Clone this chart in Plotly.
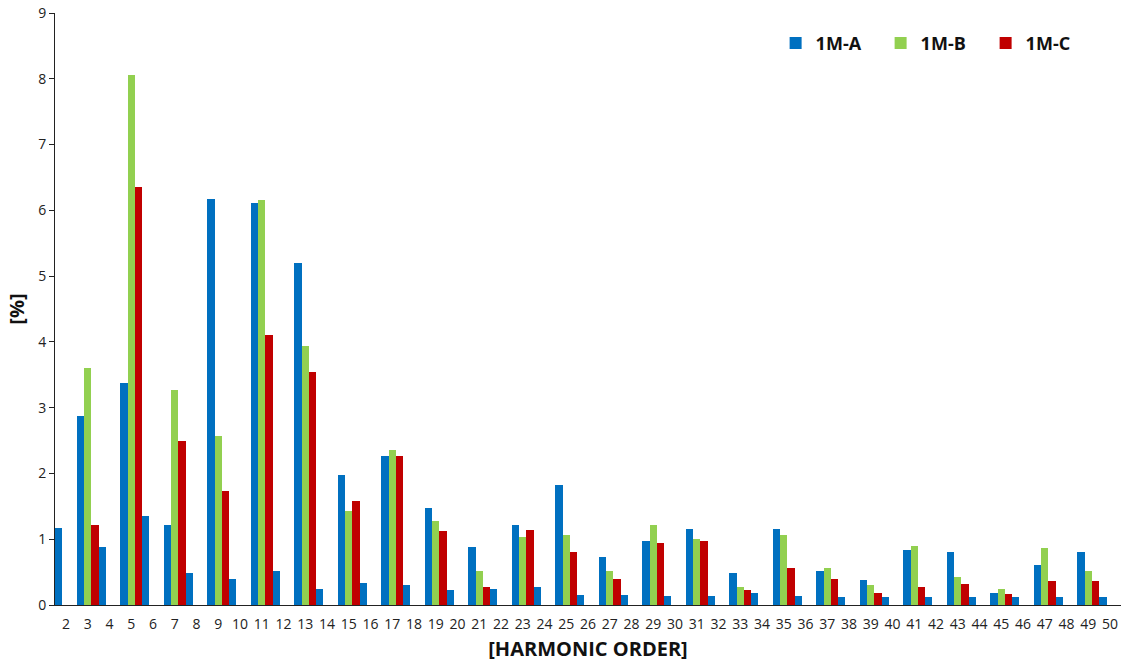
import plotly.graph_objects as go

# Harmonic orders 2..50
orders = [str(n) for n in range(2, 51)]

# Harmonic distortion per order [%] (odd orders for all phases, even orders only 1M-A)
m_a = [1.17, 2.88, 0.885, 3.38, 1.35, 1.21, 0.49, 6.17, 0.40, 6.11,
       0.51, 5.20, 0.25, 1.97, 0.33, 2.26, 0.31, 1.48, 0.23, 0.885,
       0.25, 1.21, 0.27, 1.83, 0.145, 0.73, 0.145, 0.97, 0.13, 1.15,
       0.13, 0.49, 0.185, 1.15, 0.13, 0.51, 0.115, 0.38, 0.115, 0.84,
       0.115, 0.81, 0.115, 0.185, 0.115, 0.61, 0.115, 0.80, 0.115]
m_b = [None, 3.60, None, 8.05, None, 3.27, None, 2.57, None, 6.15,
       None, 3.93, None, 1.43, None, 2.35, None, 1.27, None, 0.52,
       None, 1.04, None, 1.07, None, 0.52, None, 1.22, None, 1.00,
       None, 0.27, None, 1.07, None, 0.555, None, 0.30, None, 0.90,
       None, 0.42, None, 0.25, None, 0.87, None, 0.52, None]
m_c = [None, 1.22, None, 6.36, None, 2.50, None, 1.74, None, 4.10,
       None, 3.54, None, 1.58, None, 2.26, None, 1.12, None, 0.28,
       None, 1.14, None, 0.80, None, 0.40, None, 0.94, None, 0.98,
       None, 0.235, None, 0.555, None, 0.40, None, 0.175, None, 0.28,
       None, 0.32, None, 0.16, None, 0.36, None, 0.36, None]

series = [("1M-A", m_a, "#0070C0"), ("1M-B", m_b, "#92D050"), ("1M-C", m_c, "#C00000")]

fig = go.Figure()
for name, vals, color in series:
    fig.add_trace(go.Bar(x=orders, y=vals, name=name,
                         marker=dict(color=color, line=dict(width=0))))

font_family = "Open Sans, Noto Sans, sans-serif"

fig.update_layout(
    width=1121, height=667,
    margin=dict(l=55, r=0, t=13, b=62, autoexpand=False),
    paper_bgcolor="white", plot_bgcolor="white",
    barmode="group", bargap=0, bargroupgap=0,
    font=dict(family=font_family, size=14, color="#222"),
    showlegend=True,
    legend=dict(orientation="h", x=0.676, y=0.98, xanchor="left", yanchor="top",
                font=dict(size=18, color="#111", family=font_family, weight="bold"),
                entrywidth=60, itemwidth=30, bgcolor="rgba(0,0,0,0)"),
    xaxis=dict(type="category", showline=True, linecolor="#222", linewidth=1,
               ticks="outside", ticklen=6, tickcolor="rgba(0,0,0,0)",
               showgrid=False, zeroline=False,
               tickfont=dict(size=14, color="#222"),
               title=dict(text="[HARMONIC ORDER]", standoff=10,
                          font=dict(size=20, color="#111", weight="bold"))),
    yaxis=dict(range=[0, 9], dtick=1, showline=True, linecolor="#222", linewidth=1,
               ticks="outside", ticklen=5, tickcolor="#222",
               showgrid=False, zeroline=False,
               tickfont=dict(size=14, color="#222"),
               title=dict(text="[%]", standoff=8,
                          font=dict(size=20, color="#111", weight="bold"))),
)

fig.write_html("out.html")
